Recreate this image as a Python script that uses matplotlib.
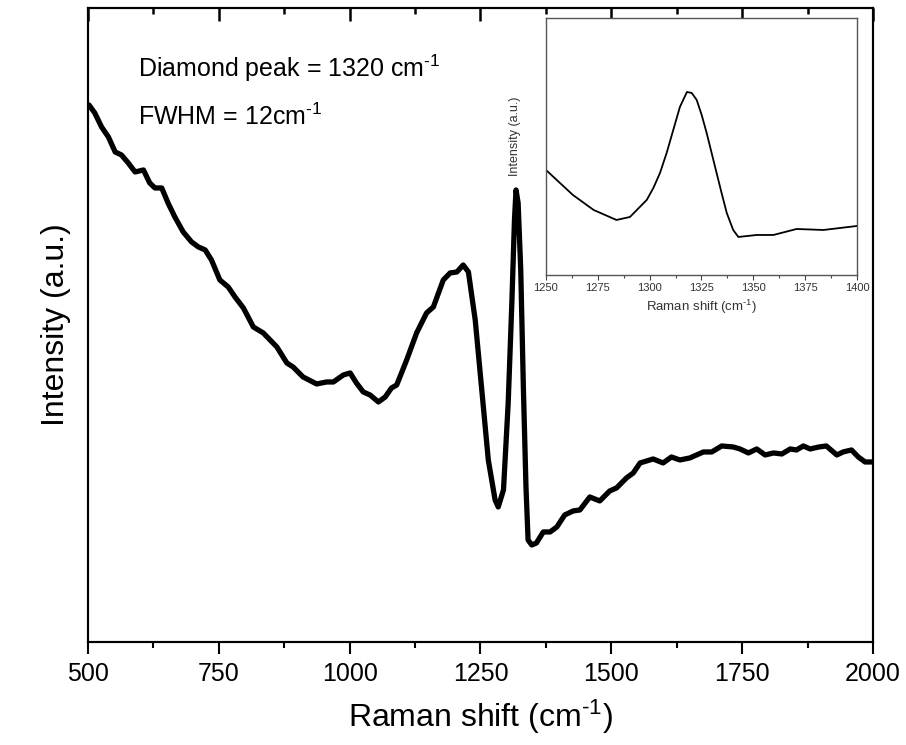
import matplotlib
matplotlib.use("Agg")
import matplotlib.pyplot as plt
from matplotlib.ticker import MultipleLocator

# -----------------------------------
# Data
# -----------------------------------
raman_shift = [502, 513, 526, 539, 552, 564, 577, 590, 606, 618, 628, 641, 653, 666,
               682, 698, 711, 724, 736, 752, 768, 781, 797, 816, 835, 861, 880, 892,
               911, 937, 956, 969, 988, 1001, 1013, 1026, 1039, 1055, 1068, 1080,
               1090, 1109, 1128, 1147, 1160, 1179, 1192, 1205, 1217, 1227, 1240,
               1252, 1265, 1278, 1284, 1294, 1303, 1310, 1315, 1318, 1322, 1327,
               1332, 1337, 1341, 1348, 1357, 1370, 1383, 1396, 1411, 1427, 1440,
               1459, 1478, 1497, 1510, 1529, 1542, 1555, 1580, 1599, 1615, 1631,
               1650, 1676, 1692, 1711, 1733, 1746, 1762, 1778, 1794, 1810, 1826,
               1842, 1854, 1867, 1880, 1897, 1911, 1931, 1943, 1959, 1972, 1985, 1998]
intensity = [537, 529, 515, 505, 490, 487, 479, 470, 472, 459, 454, 454, 439, 425,
             410, 400, 395, 392, 382, 362, 355, 345, 334, 315, 309, 295, 279, 275,
             265, 258, 260, 260, 267, 269, 259, 250, 247, 240, 245, 254,
             257, 282, 309, 329, 335, 362, 369, 370, 377, 370, 322,
             255, 182, 142, 135, 152, 239, 339, 422, 452, 439, 372,
             255, 155, 102, 97, 99, 110, 110, 115, 127, 131, 132,
             145, 141, 151, 154, 164, 169, 179, 183, 179, 185, 182,
             184, 190, 190, 196, 195, 193, 189, 193, 187, 189, 188,
             193, 192, 196, 193, 195, 196, 187, 190, 192, 185, 180, 180]

inset_shift = [1250, 1263, 1273, 1284, 1290.5, 1298.6, 1301.8, 1305, 1308.2, 1311.4,
               1314.6, 1318, 1320.3, 1322.7, 1325.1, 1327.5, 1332.3, 1334.7, 1337.2,
               1340.3, 1342.8, 1351.6, 1359.7, 1370.9, 1383.8, 1400]
inset_intensity = [105, 80, 65, 55, 58, 75, 87, 102, 122, 145,
                   168, 183, 182, 175, 160, 142, 102, 82, 62,
                   45, 38, 40, 40, 46, 45, 49]

# -----------------------------------
# Fonts
# -----------------------------------
plt.rcParams['font.family'] = ['Liberation Sans', 'DejaVu Sans']
plt.rcParams['mathtext.fontset'] = 'custom'
plt.rcParams['mathtext.rm'] = 'Liberation Sans'
plt.rcParams['mathtext.it'] = 'Liberation Sans'
plt.rcParams['mathtext.default'] = 'regular'

SUP = r'$^{\text{-1}}$'

fig = plt.figure(figsize=(9.06, 7.45), dpi=100)

# -----------------------------------
# Main plot
# -----------------------------------
ax = fig.add_axes([0.0971, 0.1383, 0.8664, 0.8510])
ax.plot(raman_shift, intensity, color='black', lw=3.8,
        solid_joinstyle='round', solid_capstyle='round')
ax.set_xlim(500, 2000)
ax.set_ylim(0, 634)
ax.xaxis.set_major_locator(MultipleLocator(250))
ax.xaxis.set_minor_locator(MultipleLocator(125))
ax.set_yticks([])
ax.tick_params(axis='x', which='major', direction='out', length=8.5, width=1.5,
               labelsize=18, pad=6)
ax.tick_params(axis='x', which='minor', direction='out', length=4, width=1.5)
for s in ax.spines.values():
    s.set_linewidth(1.5)
ax.set_xlabel('Raman shift (cm' + SUP + ')', fontsize=23, labelpad=8)
ax.set_ylabel('Intensity (a.u.)', fontsize=23, labelpad=12)

# top axis: inward ticks, no labels
top = ax.twiny()
top.set_xlim(ax.get_xlim())
top.set_yticks([])
top.xaxis.set_major_locator(MultipleLocator(250))
top.xaxis.set_minor_locator(MultipleLocator(125))
top.xaxis.set_ticks_position('top')
top.tick_params(axis='x', which='major', direction='in', length=9, width=1.8,
                color='black', labeltop=False)
top.tick_params(axis='x', which='minor', direction='in', length=4.5, width=1.8,
                color='black')
for s in top.spines.values():
    s.set_linewidth(1.5)

ax.text(138 / 906, 1 - 77 / 745, 'Diamond peak = 1320 cm' + SUP,
        transform=fig.transFigure, fontsize=18, va='baseline')
ax.text(138 / 906, 1 - 125 / 745, 'FWHM = 12cm' + SUP,
        transform=fig.transFigure, fontsize=18, va='baseline')

# -----------------------------------
# Inset
# -----------------------------------
ins = fig.add_axes([0.6026, 0.6309, 0.3433, 0.3450])
ins.plot(inset_shift, inset_intensity, color='black', lw=1.3)
ins.set_xlim(1250, 1400)
ins.set_ylim(0, 257)
ins.xaxis.set_major_locator(MultipleLocator(25))
ins.xaxis.set_minor_locator(MultipleLocator(12.5))
ins.set_yticks([])
ins.tick_params(axis='x', which='major', direction='out', length=3.5, width=0.8,
                labelsize=8, pad=2, colors='#444444', labelcolor='#333333')
ins.tick_params(axis='x', which='minor', direction='out', length=2, width=0.8,
                colors='#444444')
for s in ins.spines.values():
    s.set_linewidth(1.0)
    s.set_color('#555555')
ins.set_xlabel('Raman shift (cm' + SUP + ')', fontsize=9.5, color='#333333', labelpad=4)
ins.set_ylabel('Intensity (a.u.)', fontsize=9, color='#333333')
ins.yaxis.set_label_coords(-0.08, 0.54)

fig.savefig('out.png', dpi=100)
